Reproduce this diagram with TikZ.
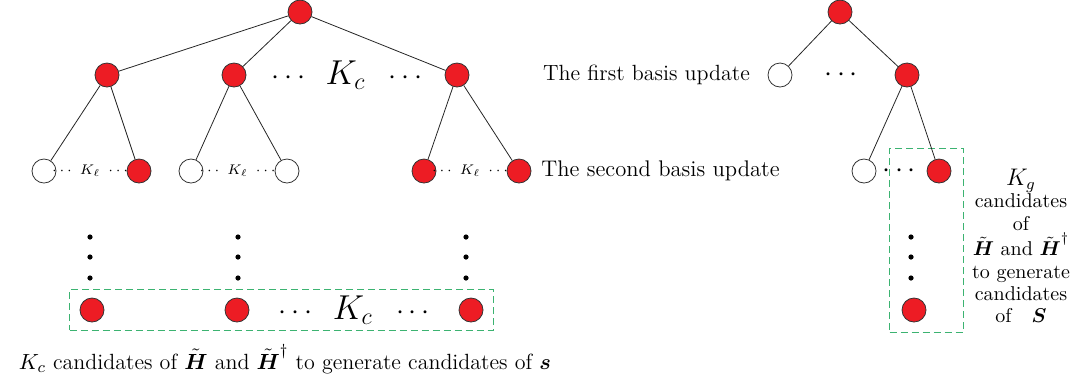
\documentclass[tikz,border=0pt]{standalone}
\usepackage{amsmath}
\usepackage{tikz}
\usetikzlibrary{positioning, fit}
\definecolor{nodered}{RGB}{237,28,36}
\definecolor{boxgreen}{RGB}{60,179,113}

\begin{document}
\begin{tikzpicture}
    [
        x=0.5pt, y=-0.5pt, on grid,
        red_node/.style={circle, draw=black!80, fill=nodered, line width=0.4pt, minimum size=12pt, inner sep=0pt},
        white_node/.style={circle, draw=black!80, fill=white, line width=0.4pt, minimum size=12pt, inner sep=0pt},
        dot_node/.style={circle, fill=black, minimum size=2.6pt, inner sep=0pt},
        tree_edge/.style={line width=0.4pt, color=black!85},
        cand_box/.style={draw=boxgreen, dash pattern=on 3.5pt off 2pt, line width=0.5pt},
        kc_label/.style={font=\Large, inner sep=0pt},
        kl_label/.style={font=\scriptsize, inner sep=0pt},
    ]
        \useasboundingbox (0,0) rectangle (1074,377);

        % left tree
        \node[red_node] (rootL) at (300,12) {};
        \node[red_node] (a1) [below left=31.5pt and 96.5pt of rootL] {};
        \node[red_node] (a2) [below left=31.5pt and 33pt of rootL] {};
        \node[red_node] (a3) [below right=31.5pt and 78.5pt of rootL] {};
        \node[white_node] (b1) [below left=48pt and 31.5pt of a1] {};
        \node[red_node] (b2) [below right=48pt and 16pt of a1] {};
        \node[white_node] (b3) [below left=48pt and 21.5pt of a2] {};
        \node[white_node] (b4) [below right=48pt and 26.5pt of a2] {};
        \node[red_node] (b5) [below left=48pt and 16.5pt of a3] {};
        \node[red_node] (b6) [below right=48pt and 31pt of a3] {};
        \node[red_node] (c1) at (92,310) {};
        \node[red_node] (c2) [right=72.5pt of c1] {};
        \node[red_node] (c3) [right=117pt of c2] {};

        % right tree
        \node[red_node] (rootR) at (840,12) {};
        \node[white_node] (r1) [below left=31.5pt and 30pt of rootR] {};
        \node[red_node] (r2) [below right=31.5pt and 33.5pt of rootR] {};
        \node[white_node] (r3) [below left=48pt and 21.5pt of r2] {};
        \node[red_node] (r4) [below right=48pt and 16pt of r2] {};
        \node[red_node] (r5) at (914,310) {};

        \foreach \x/\n in {90/1, 238/2, 466/3, 911/4}
            \foreach \y/\m in {237/1, 257/2, 278/3}
                \node[dot_node] (v\n\m) at (\x,\y) {};

        \path (a2) -- node[kc_label, pos=0.52] (kc_top) {$\cdots$\ \hspace{3pt}{\LARGE$K_c$}\ \hspace{7pt}$\cdots$} (a3);
        \path (c2) -- node[kc_label, pos=0.513] (kc_bot) {$\cdots$\ \hspace{3pt}{\LARGE$K_c$}\ \hspace{7pt}$\cdots$} (c3);
        \path (b1) -- node[kl_label] (kl1) {$\cdots\ K_\ell\ \cdots$} (b2);
        \path (b3) -- node[kl_label] (kl2) {$\cdots\ K_\ell\ \cdots$} (b4);
        \path (b5) -- node[kl_label] (kl3) {$\cdots\ K_\ell\ \cdots$} (b6);
        \path (r1) -- node[kc_label] (rdots1) {$\cdots$} (r2);
        \path (r3) -- node[kc_label] (rdots2) {$\cdots$} (r4);

        \node[anchor=east, font=\fontsize{11}{13}\selectfont] (first_upd) at (757,75) {The first basis update};
        \node[anchor=west, font=\fontsize{11.3}{13}\selectfont, inner xsep=0pt] (second_upd) at (541,171) {The second basis update};
        \node[font=\fontsize{11}{13}\selectfont] (caption_c) at (285,359)
            {$K_c$ candidates of $\tilde{\boldsymbol H}$ and $\tilde{\boldsymbol H}^{\dagger}$ to generate candidates of $\boldsymbol s$};
        \node[anchor=north, align=center, font=\fontsize{10}{11.2}\selectfont] (caption_g) at (1021,162)
            {{\large $K_g$}\\ candidates\\ of\\ $\tilde{\boldsymbol H}$ and $\tilde{\boldsymbol H}^{\dagger}$\\ to generate\\ candidates\\ of\quad$\boldsymbol S$};

        \node[cand_box, fit=(c1)(c3), inner xsep=5pt, inner ysep=4pt] (box_c) {};
        \node[cand_box, fit=(r4)(r5), inner xsep=6pt, inner ysep=5pt] (box_g) {};

        \draw[tree_edge] (rootL) -- (a1) ;
        \draw[tree_edge] (rootL) -- (a2) ;
        \draw[tree_edge] (rootL) -- (a3) ;
        \draw[tree_edge] (a1) -- (b1) ;
        \draw[tree_edge] (a1) -- (b2) ;
        \draw[tree_edge] (a2) -- (b3) ;
        \draw[tree_edge] (a2) -- (b4) ;
        \draw[tree_edge] (a3) -- (b5) ;
        \draw[tree_edge] (a3) -- (b6) ;
        \draw[tree_edge] (rootR) -- (r1) ;
        \draw[tree_edge] (rootR) -- (r2) ;
        \draw[tree_edge] (r2) -- (r3) ;
        \draw[tree_edge] (r2) -- (r4) ;
    \end{tikzpicture}
\end{document}
